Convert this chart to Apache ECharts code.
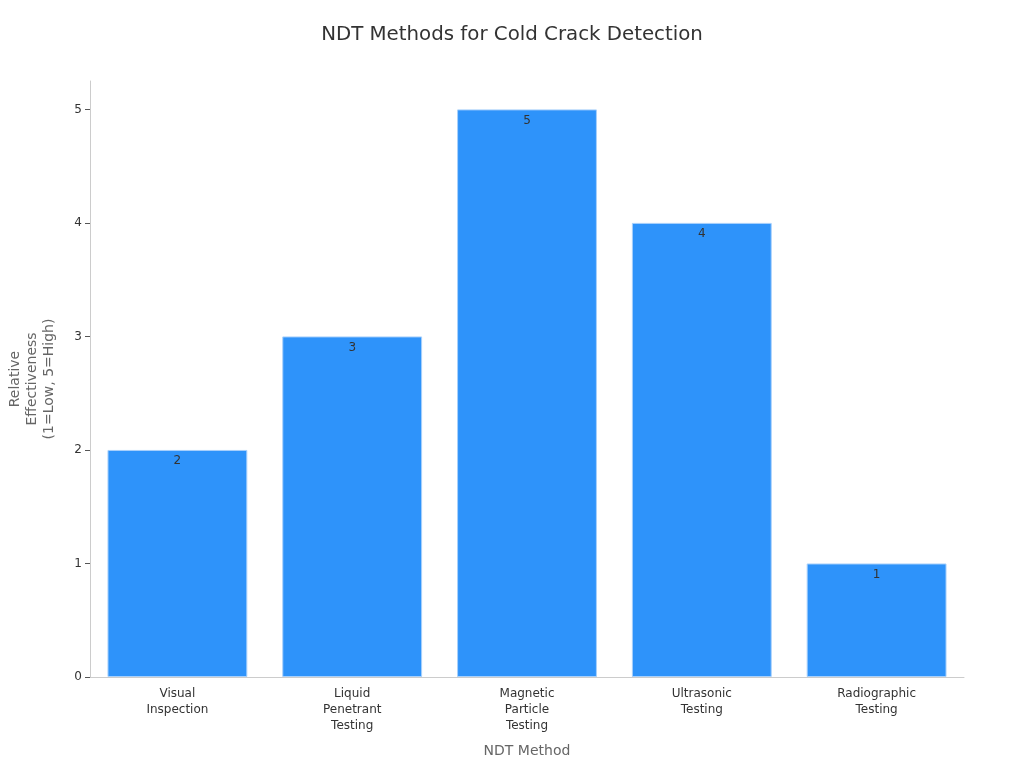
<!DOCTYPE html>
<html>
<head>
<meta charset="utf-8">
<script src="https://cdn.jsdelivr.net/npm/echarts@6/dist/echarts.min.js"></script>
<style>
  html, body { margin: 0; padding: 0; background: #fff; }
  #chart { width: 1024px; height: 768px; }
</style>
</head>
<body>
<div id="chart"></div>
<script>
// chart data
var methods = [
  "Visual\nInspection",
  "Liquid\nPenetrant\nTesting",
  "Magnetic\nParticle\nTesting",
  "Ultrasonic\nTesting",
  "Radiographic\nTesting"
];
var effectiveness = [2, 3, 5, 4, 1];
var yTicks = [0, 1, 2, 3, 4, 5];

(function () {
  var myechart = echarts.init(document.getElementById("chart"));
  var fontFamily = "DejaVu Sans";
  var axisGray = "#cccccc";

  var option = {
    backgroundColor: "#ffffff",
    textStyle: { fontFamily: fontFamily },
    title: {
      text: "NDT Methods for Cold Crack Detection",
      left: "center",
      top: 20,
      textStyle: {
        fontFamily: fontFamily,
        fontSize: 19.8,
        fontWeight: "normal",
        color: "#333333",
      },
    },
    grid: {
      left: 90,
      right: 60,
      top: 81,
      bottom: 91,
      containLabel: false,
      outerBoundsMode: "none",
    },
    xAxis: {
      type: "category",
      data: methods,
      name: "NDT Method",
      nameLocation: "middle",
      nameGap: 67,
      nameTextStyle: { color: "#666666", fontSize: 14 },
      axisLine: { lineStyle: { color: axisGray } },
      axisTick: { alignWithLabel: true, length: 5, lineStyle: { color: "#555" } },
      axisLabel: { color: "#333333", fontSize: 12, lineHeight: 16, margin: 9 },
    },
    yAxis: {
      type: "value",
      min: 0,
      max: 5.25,
      interval: 1,
      name: "Relative\nEffectiveness\n(1=Low, 5=High)",
      nameLocation: "middle",
      nameRotate: 90,
      nameGap: 32,
      nameTextStyle: { color: "#666666", fontSize: 14, lineHeight: 17 },
      axisLine: { show: true, lineStyle: { color: axisGray } },
      axisTick: {
        show: true,
        length: 5,
        customValues: yTicks,
        lineStyle: { color: "#555" },
      },
      axisLabel: {
        color: "#333333",
        fontSize: 12,
        margin: 8,
        customValues: yTicks,
      },
      splitLine: { show: false },
    },
    series: [
      {
        type: "bar",
        data: effectiveness,
        barWidth: "80%",
        itemStyle: {
          color: "#2e93fa",
          borderColor: "#a8d0fb",
          borderWidth: 1,
        },
        label: {
          show: true,
          position: "insideTop",
          distance: 5,
          color: "#333333",
          fontSize: 12,
        },
      },
    ],
  };

  myechart.setOption(option);
})();
</script>
</body>
</html>
